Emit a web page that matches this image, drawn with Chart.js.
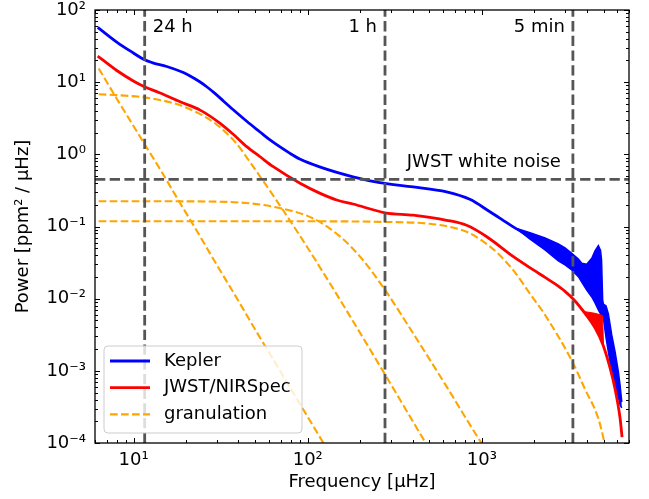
<!DOCTYPE html>
<html>
<head>
<meta charset="utf-8">
<title>Granulation background: Kepler vs JWST/NIRSpec</title>
<script src="https://cdn.jsdelivr.net/npm/chart.js@4.4.0/dist/chart.umd.min.js"></script>
<style>
  body { margin: 0; background: #fff; }
</style>
</head>
<body>
<canvas id="psd" width="649" height="499"></canvas>
<script>
// Power density spectra
// frequency in µHz, power in ppm^2 / µHz

const keplerFreq = [6.22, 8, 9.96, 11.47, 12.75, 15.5, 19.3, 21.1, 24.1, 26.4, 29.3, 33.0, 37.2, 44.8, 53.2, 60.7, 79.1, 90, 117, 182, 259, 403, 627, 853, 1112, 1300, 1514, 1973];
const keplerPower = [57.6, 36.0, 25.4, 20.6, 18.7, 16.5, 13.6, 12.2, 10.06, 8.57, 6.99, 5.40, 4.18, 2.85, 2.04, 1.58, 1.03, 0.86, 0.67, 0.488, 0.405, 0.354, 0.302, 0.238, 0.160, 0.1255, 0.0987, 0.0682];

// scatter of the Kepler spectrum at high frequency (upper / lower edge)
const keplerScatterFreq = [1600, 1891, 2306, 2750, 3004, 3283, 3583, 3747, 4003, 4278, 4467, 4668, 4805, 4870, 4941, 4987, 5168, 5328, 5572, 5821, 6081, 6220, 6363];
const keplerScatterHigh = [0.093, 0.0820, 0.0693, 0.0572, 0.0504, 0.0425, 0.0355, 0.0309, 0.0300, 0.0363, 0.0458, 0.0542, 0.0465, 0.0344, 0.00959, 0.00844, 0.00792, 0.00614, 0.00314, 0.00184, 0.000973, 0.000637, 0.00037];
const keplerScatterLow = [0.092, 0.0670, 0.0473, 0.0333, 0.0293, 0.0250, 0.0202, 0.0170, 0.0132, 0.01055, 0.00871, 0.00697, 0.00613, 0.00575, 0.00557, 0.0054, 0.00285, 0.00182, 0.000973, 0.000637, 0.000434, 0.000337, 0.000306];

const jwstFreq = [6.22, 8, 9.96, 11.47, 14.2, 18.5, 24.1, 31.4, 37.2, 44.6, 53, 63.4, 90.3, 117, 146.7, 182, 278, 403, 627, 817, 1067, 1518, 1977, 2306, 2633, 3004, 3429, 3913, 4467, 4966, 5448, 5821, 6219, 6386];
const jwstPower = [23.0, 14.5, 10.4, 8.71, 7.08, 5.35, 4.10, 2.69, 1.91, 1.28, 0.933, 0.674, 0.397, 0.29, 0.233, 0.205, 0.155, 0.1435, 0.122, 0.104, 0.0722, 0.0382, 0.0250, 0.0197, 0.0160, 0.0126, 0.00929, 0.00623, 0.00393, 0.00228, 0.001095, 0.00056, 0.000222, 0.000121];

const jwstScatterFreq = [3429, 3913, 4467, 4837, 4934, 4999];
const jwstScatterHigh = [0.0093, 0.0066, 0.00627, 0.00594, 0.0058, 0.0023];
const jwstScatterLow = [0.00929, 0.00623, 0.00393, 0.00262, 0.00236, 0.00217];

// granulation components
const gran1Freq = [6.3, 8, 10, 11.57, 14.5, 18.4, 23, 29.2, 40, 50, 65, 80, 100, 123, 135];
const gran1Power = [15.5, 5.9, 2.45, 1.38, 0.57, 0.215, 0.088, 0.033, 0.0093, 0.0037, 0.0013, 0.00056, 0.00023, 0.0001, 0.00007];
const gran2Freq = [6.3, 9, 11.57, 14.5, 18.4, 23.5, 28.6, 33.5, 38.9, 45, 53, 62, 73.8, 90, 107, 150, 278, 470, 520];
const gran2Power = [6.8, 6.5, 6.15, 5.6, 4.81, 3.72, 2.82, 2.05, 1.42, 0.88, 0.50, 0.29, 0.155, 0.075, 0.039, 0.0105, 0.00089, 0.000105, 0.00007];
const gran3Freq = [6.3, 20, 44, 69, 107, 153, 204, 278, 400, 600, 1000, 1060];
const gran3Power = [0.224, 0.223, 0.212, 0.180, 0.130, 0.073, 0.036, 0.0132, 0.0034, 0.00072, 0.000098, 0.00008];
const gran4Freq = [6.3, 100, 260, 502, 716, 853, 974, 1215, 1514, 1973, 2250, 3278, 3909, 4661, 5048, 5200];
const gran4Power = [0.118, 0.118, 0.116, 0.109, 0.0938, 0.0807, 0.0667, 0.044, 0.0248, 0.0101, 0.0065, 0.0014, 0.00056, 0.00022, 0.000103, 0.00007];

// period markers and white noise level
const markerFreq = [11.574, 277.78, 3333.3];
const markerLabels = ['24 h', '1 h', '5 min'];
const whiteNoiseLevel = 0.45;

const seriesNames = ['Kepler', 'JWST/NIRSpec', 'granulation'];

const xMin = 6, xMax = 7000;
const yMin = 1e-4, yMax = 100;
const xTickValues = [10, 100, 1000];
const xTickLabels = ['10¹', '10²', '10³'];
const yTickValues = [1e-4, 1e-3, 1e-2, 1e-1, 1, 10, 100];
const yTickLabels = ['10⁻⁴', '10⁻³', '10⁻²', '10⁻¹', '10⁰', '10¹', '10²'];

const BLUE = '#0000ff';
const RED = '#ff0000';
const ORANGE = '#ffa500';
const GREY = '#555555';
const FONT = "'DejaVu Sans', sans-serif";

Chart.defaults.font.family = FONT;
Chart.defaults.color = '#000';

function xy(xs, ys) {
    return xs.map(function (x, i) { return { x: x, y: ys[i] }; });
}

// majors at the decades, minors at 2..9
function logTicks(lo, hi) {
    return function (scale) {
        const ticks = [];
        for (let e = -5; e <= 4; e++) {
            for (let m = 1; m <= 9; m++) {
                const v = m * Math.pow(10, e);
                if (v >= lo * 0.9999 && v <= hi * 1.0001) {
                    ticks.push({ value: v, major: m === 1 });
                }
            }
        }
        scale.ticks = ticks;
    };
}

function tickLabel(values, labels) {
    return function (value) {
        for (let i = 0; i < values.length; i++) {
            if (Math.abs(value / values[i] - 1) < 1e-6) return labels[i];
        }
        return '';
    };
}

const datasets = [];

markerFreq.forEach(function (f) {
    datasets.push({
        data: [{ x: f, y: yMin }, { x: f, y: yMax }],
        borderColor: GREY, borderWidth: 2.8, borderDash: [10.3, 4.4], order: 0
    });
});
datasets.push({
    data: [{ x: xMin, y: whiteNoiseLevel }, { x: xMax, y: whiteNoiseLevel }],
    borderColor: GREY, borderWidth: 2.8, borderDash: [10.3, 4.4], order: 0
});

[[gran1Freq, gran1Power], [gran2Freq, gran2Power], [gran3Freq, gran3Power], [gran4Freq, gran4Power]].forEach(function (g) {
    datasets.push({
        label: seriesNames[2],
        data: xy(g[0], g[1]),
        borderColor: ORANGE, borderWidth: 2.1, borderDash: [7.7, 3.3],
        cubicInterpolationMode: 'monotone', order: 1
    });
});

datasets.push({
    label: seriesNames[1],
    data: xy(jwstFreq, jwstPower),
    borderColor: RED, borderWidth: 2.8, cubicInterpolationMode: 'monotone', order: 2
});
datasets.push({
    data: xy(jwstScatterFreq, jwstScatterHigh),
    borderColor: RED, borderWidth: 1, order: 2
});
datasets.push({
    data: xy(jwstScatterFreq, jwstScatterLow),
    borderColor: RED, borderWidth: 1, backgroundColor: RED, fill: '-1', order: 2
});

datasets.push({
    label: seriesNames[0],
    data: xy(keplerFreq, keplerPower),
    borderColor: BLUE, borderWidth: 2.8, cubicInterpolationMode: 'monotone', order: 3
});
datasets.push({
    data: xy(keplerScatterFreq, keplerScatterHigh),
    borderColor: BLUE, borderWidth: 1.5, order: 3
});
datasets.push({
    data: xy(keplerScatterFreq, keplerScatterLow),
    borderColor: BLUE, borderWidth: 1.5, backgroundColor: BLUE, fill: '-1', order: 3
});

// period labels, legend box, inward ticks and frame (matplotlib look)
const decorations = {
    id: 'decorations',
    afterDatasetsDraw: function (chart) {
        const ctx = chart.ctx;
        const a = chart.chartArea;
        const xs = chart.scales.x;
        const ys = chart.scales.y;
        ctx.save();

        ctx.fillStyle = '#000';
        ctx.font = '18px ' + FONT;
        ctx.textBaseline = 'alphabetic';
        markerFreq.forEach(function (f, i) {
            const px = xs.getPixelForValue(f);
            if (i === 0) {
                ctx.textAlign = 'left';
                ctx.fillText(markerLabels[i], px + 8, a.top + 22);
            } else {
                ctx.textAlign = 'right';
                ctx.fillText(markerLabels[i], px - 8, a.top + 22);
            }
        });
        ctx.textAlign = 'right';
        ctx.fillText('JWST white noise', xs.getPixelForValue(markerFreq[2]) - 12, ys.getPixelForValue(whiteNoiseLevel) - 12.5);

        // legend
        const lx = a.left + 9, ly = a.bottom - 97, lw = 198, lh = 87, r = 4;
        ctx.beginPath();
        ctx.moveTo(lx + r, ly);
        ctx.lineTo(lx + lw - r, ly);
        ctx.arcTo(lx + lw, ly, lx + lw, ly + r, r);
        ctx.lineTo(lx + lw, ly + lh - r);
        ctx.arcTo(lx + lw, ly + lh, lx + lw - r, ly + lh, r);
        ctx.lineTo(lx + r, ly + lh);
        ctx.arcTo(lx, ly + lh, lx, ly + lh - r, r);
        ctx.lineTo(lx, ly + r);
        ctx.arcTo(lx, ly, lx + r, ly, r);
        ctx.closePath();
        ctx.fillStyle = 'rgba(255,255,255,0.8)';
        ctx.fill();
        ctx.strokeStyle = '#cccccc';
        ctx.lineWidth = 1;
        ctx.stroke();

        const entries = [
            { color: BLUE, width: 2.8, dash: [] },
            { color: RED, width: 2.8, dash: [] },
            { color: ORANGE, width: 2.1, dash: [7.7, 3.3] }
        ];
        ctx.textAlign = 'left';
        ctx.textBaseline = 'middle';
        entries.forEach(function (e, i) {
            const rowY = ly + 15 + i * 26.7;
            ctx.beginPath();
            ctx.setLineDash(e.dash);
            ctx.strokeStyle = e.color;
            ctx.lineWidth = e.width;
            ctx.moveTo(lx + 6, rowY);
            ctx.lineTo(lx + 46, rowY);
            ctx.stroke();
            ctx.setLineDash([]);
            ctx.fillStyle = '#000';
            ctx.fillText(seriesNames[i], lx + 60, rowY);
        });

        // ticks pointing inwards on all four sides
        ctx.strokeStyle = '#000';
        ctx.lineWidth = 1;
        ctx.beginPath();
        xs.ticks.forEach(function (t) {
            const px = Math.round(xs.getPixelForValue(t.value)) + 0.5;
            const len = t.major ? 5 : 3;
            ctx.moveTo(px, a.bottom);
            ctx.lineTo(px, a.bottom - len);
            ctx.moveTo(px, a.top);
            ctx.lineTo(px, a.top + len);
        });
        ys.ticks.forEach(function (t) {
            const py = Math.round(ys.getPixelForValue(t.value)) + 0.5;
            const len = t.major ? 5 : 3;
            ctx.moveTo(a.left, py);
            ctx.lineTo(a.left + len, py);
            ctx.moveTo(a.right, py);
            ctx.lineTo(a.right - len, py);
        });
        ctx.stroke();

        ctx.lineWidth = 1.3;
        ctx.strokeRect(a.left, a.top, a.right - a.left, a.bottom - a.top);
        ctx.restore();
    }
};

const ctx = document.getElementById('psd').getContext('2d');
const psdChart = new Chart(ctx, {
    type: 'line',
    data: { datasets: datasets },
    options: {
        responsive: false,
        animation: false,
        events: [],
        layout: { padding: { left: 0, right: 20, top: 10, bottom: 0 } },
        elements: { point: { radius: 0 } },
        plugins: {
            legend: { display: false },
            tooltip: { enabled: false }
        },
        scales: {
            x: {
                type: 'logarithmic',
                min: xMin,
                max: xMax,
                grid: { display: false, drawTicks: false },
                border: { display: false },
                afterBuildTicks: logTicks(xMin, xMax),
                afterFit: function (scale) {
                    scale.height = 56;
                    scale.paddingLeft = 0;
                    scale.paddingRight = 0;
                },
                ticks: {
                    autoSkip: false,
                    maxRotation: 0,
                    padding: 8,
                    color: '#000',
                    font: { size: 18, lineHeight: 1 },
                    callback: tickLabel(xTickValues, xTickLabels)
                },
                title: {
                    display: true,
                    text: 'Frequency [μHz]',
                    color: '#000',
                    font: { size: 18 },
                    padding: { top: 0, bottom: 6 }
                }
            },
            y: {
                type: 'logarithmic',
                min: yMin,
                max: yMax,
                grid: { display: false, drawTicks: false },
                border: { display: false },
                afterBuildTicks: logTicks(yMin, yMax),
                afterFit: function (scale) {
                    scale.width = 95;
                    scale.paddingTop = 0;
                    scale.paddingBottom = 0;
                },
                ticks: {
                    autoSkip: false,
                    padding: 9,
                    color: '#000',
                    font: { size: 18, lineHeight: 1 },
                    callback: tickLabel(yTickValues, yTickLabels)
                },
                title: {
                    display: true,
                    text: 'Power [ppm² / μHz]',
                    color: '#000',
                    font: { size: 18 },
                    padding: { top: 13, bottom: 0 }
                }
            }
        }
    },
    plugins: [decorations]
});
</script>
</body>
</html>
